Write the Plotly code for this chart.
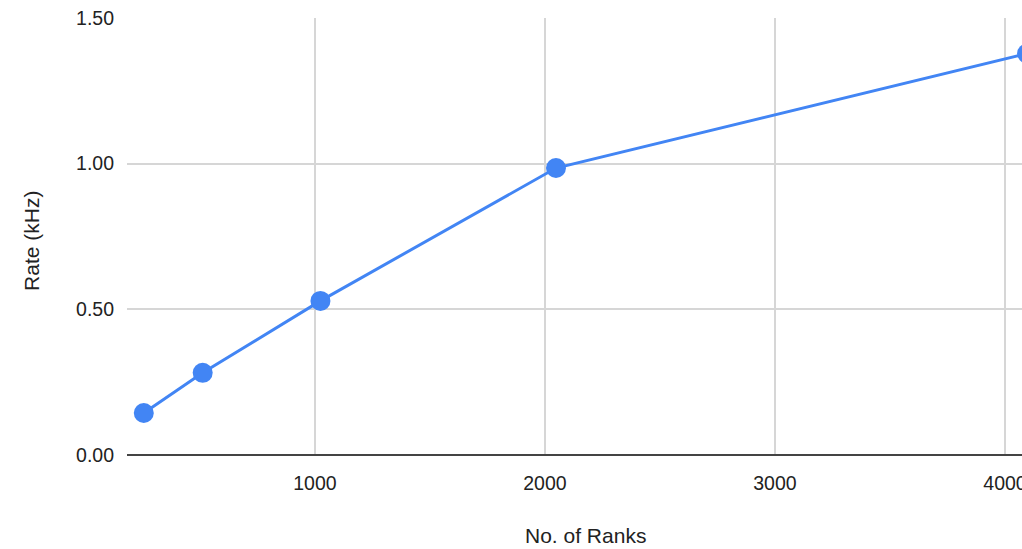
import plotly.graph_objects as go

# Throughput measured against the number of MPI ranks
ranks = [256, 512, 1024, 2048, 4096]
rate_khz = [0.144, 0.282, 0.529, 0.985, 1.378]

x_ticks = [1000, 2000, 3000, 4000]
y_ticks = [0.0, 0.5, 1.0, 1.5]
y_tick_text = ["0.00", "0.50", "1.00", "1.50"]

blue = "#4285F4"
tick_font = dict(family="Liberation Sans, Arial, sans-serif", size=19.5, color="#222222")
title_font = dict(family="Liberation Sans, Arial, sans-serif", size=21, color="#222222")

fig = go.Figure(
    go.Scatter(
        x=ranks,
        y=rate_khz,
        mode="lines+markers",
        line=dict(color=blue, width=3),
        marker=dict(color=blue, size=20),
        cliponaxis=True,
    )
)

fig.update_layout(
    width=1022,
    height=549,
    margin=dict(l=127, r=0, t=18, b=94, autoexpand=False),
    paper_bgcolor="white",
    plot_bgcolor="white",
    font=tick_font,
    showlegend=False,
    annotations=[
        dict(
            text="No. of Ranks",
            xref="paper", yref="paper",
            x=0.5128, y=-0.185,
            xanchor="center", yanchor="middle",
            showarrow=False,
            font=title_font,
        ),
        dict(
            text="Rate (kHz)",
            xref="paper", yref="paper",
            x=-0.1073, y=0.4897,
            xanchor="center", yanchor="middle",
            textangle=-90,
            showarrow=False,
            font=title_font,
        ),
    ],
)

fig.update_xaxes(
    range=[183, 4074],
    tickvals=x_ticks,
    ticktext=[str(v) for v in x_ticks],
    showgrid=True,
    gridcolor="#d6d6d6",
    gridwidth=1.5,
    zeroline=False,
    showline=False,
    ticks="",
    ticklabelstandoff=14,
    ticklabeloverflow="allow",
    automargin=False,
)

fig.update_yaxes(
    range=[0, 1.5],
    tickvals=y_ticks,
    ticktext=y_tick_text,
    showgrid=True,
    gridcolor="#d6d6d6",
    gridwidth=1.5,
    zeroline=True,
    zerolinecolor="#444444",
    zerolinewidth=2,
    ticks="",
    ticklabelstandoff=12,
    automargin=False,
)

fig.write_html("out.html")
